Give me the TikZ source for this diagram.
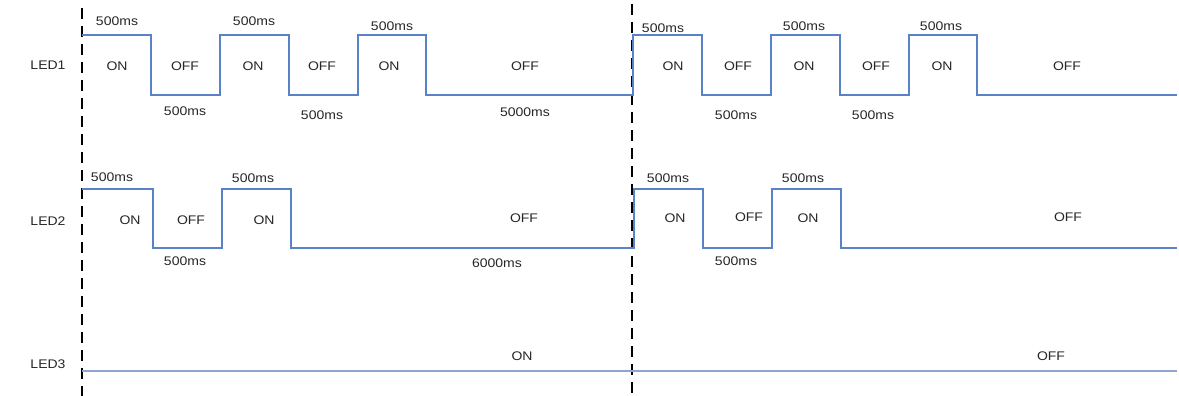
\documentclass[tikz,border=0pt]{standalone}
\usepackage{fontspec}
\newfontfamily\labfont[FakeStretch=1.12]{Liberation Sans}
\definecolor{wave}{RGB}{90,130,200}
\definecolor{wavelight}{RGB}{140,165,210}
\begin{document}
\begin{tikzpicture}[x=1pt,y=-1pt,
  lab/.style={font=\labfont\fontsize{12.5}{14}\selectfont, text=black!85, inner sep=0pt, anchor=center},
  wavepath/.style={draw=wave, line width=1.1pt},
  divider/.style={draw=black, line width=1.5pt, dash pattern=on 11pt off 7pt}]
\useasboundingbox (0,0) rectangle (1179,396);
% dividers
\draw[divider] (82,8) -- (82,396);
\draw[divider] (632,4) -- (632,396);
% row labels
\node[lab] (l1) at (48,65) {LED1};
\node[lab] (l2) at (48,221) {LED2};
\node[lab] (l3) at (48,364) {LED3};
% LED1 waveform
\draw[wavepath] (82,35) -- (151,35) -- (151,95) -- (220,95) -- (220,35) -- (289,35) -- (289,95)
  -- (358,95) -- (358,35) -- (426,35) -- (426,95) -- (633,95) -- (633,35) -- (702,35) -- (702,95)
  -- (771,95) -- (771,35) -- (840,35) -- (840,95) -- (909,95) -- (909,35) -- (977,35) -- (977,95) -- (1177,95);
% LED2 waveform
\draw[wavepath] (82,189) -- (153,189) -- (153,248) -- (222,248) -- (222,189) -- (291,189) -- (291,248)
  -- (634,248) -- (634,189) -- (703,189) -- (703,248) -- (772,248) -- (772,189) -- (841,189) -- (841,248) -- (1177,248);
% LED3 waveform
\draw[draw=wavelight, line width=1.6pt] (82,371) -- (1177,371);
% LED1 labels
\node[lab] (a1) at (117,21) {500ms};
\node[lab] (a2) at (254,21) {500ms};
\node[lab] (a3) at (392,26) {500ms};
\node[lab] (a4) at (663,28) {500ms};
\node[lab] (a5) at (804,26) {500ms};
\node[lab] (a6) at (941,26) {500ms};
\node[lab] (b1) at (117,66) {ON};
\node[lab] (b2) at (185,66) {OFF};
\node[lab] (b3) at (253,66) {ON};
\node[lab] (b4) at (322,66) {OFF};
\node[lab] (b5) at (389,66) {ON};
\node[lab] (b6) at (525,66) {OFF};
\node[lab] (b7) at (673,66) {ON};
\node[lab] (b8) at (738,66) {OFF};
\node[lab] (b9) at (804,66) {ON};
\node[lab] (b10) at (876,66) {OFF};
\node[lab] (b11) at (942,66) {ON};
\node[lab] (b12) at (1067,66) {OFF};
\node[lab] (c1) at (185,111) {500ms};
\node[lab] (c2) at (322,115) {500ms};
\node[lab] (c3) at (525,112) {5000ms};
\node[lab] (c4) at (736,115) {500ms};
\node[lab] (c5) at (873,115) {500ms};
% LED2 labels
\node[lab] (d1) at (112,177) {500ms};
\node[lab] (d2) at (253,178) {500ms};
\node[lab] (d3) at (668,178) {500ms};
\node[lab] (d4) at (803,178) {500ms};
\node[lab] (e1) at (130,220) {ON};
\node[lab] (e2) at (191,220) {OFF};
\node[lab] (e3) at (264,220) {ON};
\node[lab] (e4) at (524,218) {OFF};
\node[lab] (e5) at (675,218) {ON};
\node[lab] (e6) at (749,217) {OFF};
\node[lab] (e7) at (808,218) {ON};
\node[lab] (e8) at (1068,217) {OFF};
\node[lab] (f1) at (185,261) {500ms};
\node[lab] (f2) at (497,263) {6000ms};
\node[lab] (f3) at (736,261) {500ms};
% LED3 labels
\node[lab] (g1) at (522,356) {ON};
\node[lab] (g2) at (1051,356) {OFF};
\end{tikzpicture}
\end{document}
